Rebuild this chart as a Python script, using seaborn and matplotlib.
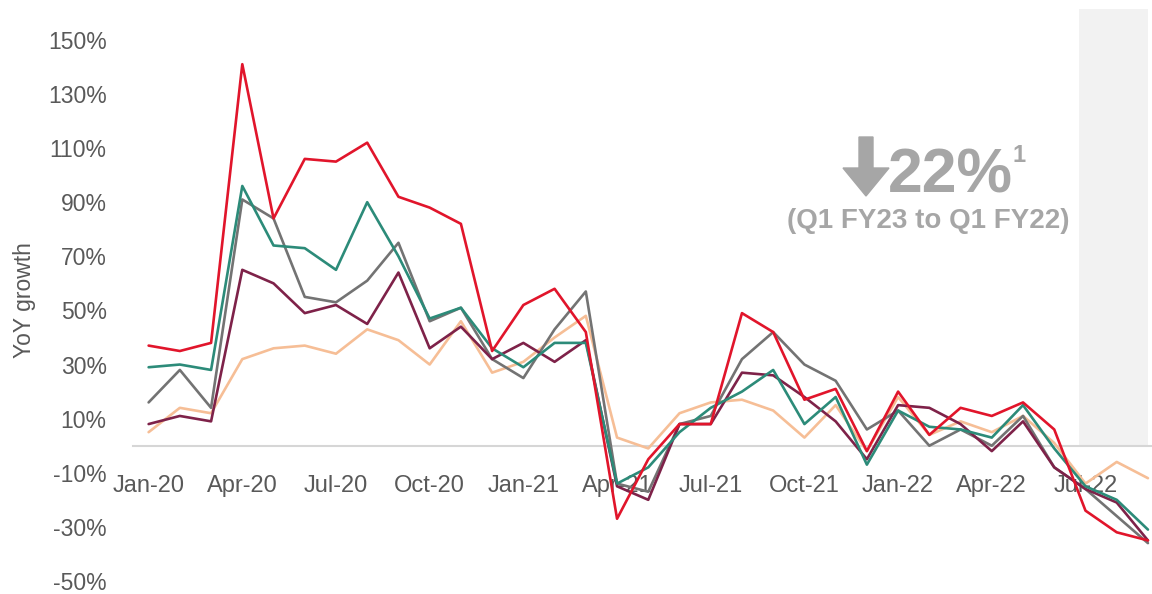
import matplotlib
matplotlib.use("Agg")
import matplotlib.pyplot as plt
from matplotlib.patches import Polygon
import seaborn as sns
import pandas as pd

# Monthly YoY growth (%), Jan-20 .. Sep-22
months = pd.date_range("2020-01-01", "2022-09-01", freq="MS").strftime("%b-%y").tolist()

red = [37, 35, 38, 141, 84, 106, 105, 112, 92, 88, 82, 35, 52, 58, 42,
       -27, -5, 8, 8, 49, 42, 17, 21, -2, 20, 4, 14, 11, 16, 6, -24, -32, -35]
teal = [29, 30, 28, 96, 74, 73, 65, 90, 70, 47, 51, 36, 29, 38, 38,
        -14, -8, 5, 14, 20, 28, 8, 18, -7, 13, 7, 6, 3, 15, -1, -15, -20, -31]
grey = [16, 28, 14, 91, 84, 55, 53, 61, 75, 46, 51, 32, 25, 43, 57,
        -14, -17, 8, 11, 32, 42, 30, 24, 6, 13, 0, 6, 0, 11, -8, -16, -26, -36]
maroon = [8, 11, 9, 65, 60, 49, 52, 45, 64, 36, 44, 32, 38, 31, 39,
          -15, -20, 8, 8, 27, 26, 18, 9, -5, 15, 14, 8, -2, 9, -8, -16, -21, -35]
peach = [5, 14, 12, 32, 36, 37, 34, 43, 39, 30, 46, 27, 31, 40, 48,
         3, -1, 12, 16, 17, 13, 3, 15, -2, 18, 4, 9, 5, 11, 1, -14, -6, -12]

series = {"Peach": peach, "Grey": grey, "Maroon": maroon, "Teal": teal, "Red": red}
palette = {"Peach": "#F6BE96", "Grey": "#737373", "Maroon": "#7E2249",
           "Teal": "#2C8B79", "Red": "#E1152B"}

yticks = list(range(-50, 151, 20))
tick_idx = list(range(0, len(months), 3))
shade_start, shade_end = 29.8, 32   # Jul-22 .. Sep-22

rows = []
for name, vals in series.items():
    for i, v in enumerate(vals):
        rows.append({"idx": i, "month": months[i], "growth": v, "series": name})
df = pd.DataFrame(rows)

sns.set_theme(style="white")
plt.rcParams["font.family"] = ["Liberation Sans", "DejaVu Sans"]

fig = plt.figure(figsize=(11.52, 5.94), dpi=100)
ax = fig.add_axes([133 / 1152, 13 / 594, 1 - 133 / 1152, (581 - 9) / 594])

# partial-quarter band
ax.fill_between([shade_start, shade_end], 0, 162, color="#F2F2F2", zorder=0, lw=0)

sns.lineplot(data=df, x="idx", y="growth", hue="series", palette=palette,
             hue_order=list(series.keys()), sort=False, estimator=None,
             linewidth=1.9, legend=False, ax=ax)

ax.set_xlim(-0.5, 32.13)
ax.set_ylim(-50, 161.4)
ax.set_yticks(yticks)
ax.set_yticklabels([f"{t}%" for t in yticks])
ax.set_xticks(tick_idx)
ax.set_xticklabels([months[i] for i in tick_idx])

for s in ["top", "right", "left"]:
    ax.spines[s].set_visible(False)
ax.spines["bottom"].set_position(("data", 0))
ax.spines["bottom"].set_color("#D6D6D6")
ax.spines["bottom"].set_linewidth(1.5)
ax.spines["bottom"].set_zorder(1)

ax.tick_params(axis="x", length=0, pad=21, labelsize=17, labelcolor="#595959")
ax.tick_params(axis="y", length=0, pad=19, labelsize=16.5, labelcolor="#595959")
ax.set_xlabel("")
ax.set_ylabel("")
fig.text(24 / 1152, 1 - 300 / 594, "YoY growth", rotation=90, ha="center",
         va="center", fontsize=16.5, color="#595959")

# callout: down arrow + 22%
H = 594
grey_txt = "#A6A6A6"
arrow = Polygon([(859, H - 137), (873, H - 137), (873, H - 168), (889, H - 168),
                 (866, H - 196), (843, H - 168), (859, H - 168)],
                closed=True, transform=None, color=grey_txt, figure=fig)
fig.patches.append(arrow)
fig.text(888 / 1152, 1 - 192 / H, "22%", ha="left", va="baseline",
         fontsize=45, fontweight="bold", color=grey_txt)
fig.text(1013 / 1152, 1 - 144 / H, "1", ha="left", va="top",
         fontsize=17, fontweight="bold", color=grey_txt)
fig.text(928 / 1152, 1 - 221 / H, "(Q1 FY23 to Q1 FY22)", ha="center", va="center",
         fontsize=20, fontweight="bold", color=grey_txt)

fig.savefig("out.png", dpi=100)
